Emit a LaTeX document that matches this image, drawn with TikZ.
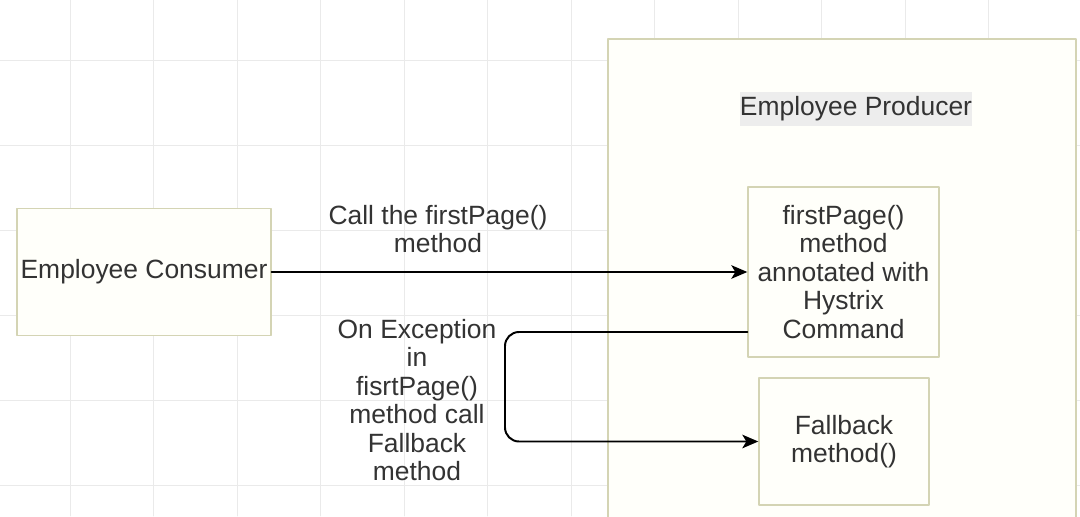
\documentclass[tikz,border=0pt]{standalone}
\usepackage{fontspec}
\setmainfont{Liberation Sans}
\usetikzlibrary{arrows.meta}
\definecolor{boxline}{RGB}{212,212,180}
\definecolor{boxfill}{RGB}{255,255,250}
\definecolor{gridgray}{RGB}{234,234,234}
\definecolor{txtgray}{RGB}{51,51,51}
\begin{document}
\begin{tikzpicture}[line cap=round,line join=round,
  block/.style={draw=boxline,fill=boxfill,line width=1pt,text=txtgray,align=center,inner sep=0pt,
    font=\fontsize{18.8}{20.3}\selectfont},
  lbl/.style={text=txtgray,align=center,inner sep=0pt,font=\fontsize{18.8}{20.3}\selectfont},
  call/.style={line width=1.4pt,-{Stealth[length=0.4cm,width=0.34cm,inset=0.1cm]}}]
  \useasboundingbox (0,0) rectangle (27,12.9);
  \clip (0,0) rectangle (27,12.9);
  \fill[white] (0,0) rectangle (27,12.9);
  \foreach \gx in {0,...,11} \draw[gridgray,line width=0.7pt] ({1.75+2.0875*\gx},0) -- ++(0,12.9);
  \foreach \gy in {0,...,5} \draw[gridgray,line width=0.7pt] (0,{11.4-2.125*\gy}) -- ++(27,0);
  \node[block,minimum width=11.7cm,minimum height=12.425cm] (producer) at (21.05,5.7125) {};
  \node[lbl,fill={rgb,255:red,237;green,237;blue,237},inner ysep=3pt] (prodtitle) at (21.4,10.175) {Employee Producer};
  \node[block,minimum width=6.35cm,minimum height=3.175cm] (consumer) at (3.6,6.1) {Employee Consumer};
  \node[block,minimum width=4.775cm,minimum height=4.25cm] (first) at (21.0875,6.1)
    {firstPage()\\method\\annotated with\\Hystrix\\Command};
  \node[block,minimum width=4.25cm,minimum height=3.175cm] (fallback) at (21.1,1.8625) {Fallback\\method()};
  \node[lbl] (calllbl) at (10.95,7.175) {Call the firstPage()\\method};
  \node[lbl] (exclbl) at (10.425,2.9) {On Exception\\in\\fisrtPage()\\method call\\Fallback\\method};
  \coordinate (bend) at (12.625,4.6);
  \draw[call] (consumer.east) -- (first.west);
  \draw[call,rounded corners=0.35cm] ([yshift=-1.5cm]first.west) -- (bend) |- (fallback.west);
\end{tikzpicture}
\end{document}
